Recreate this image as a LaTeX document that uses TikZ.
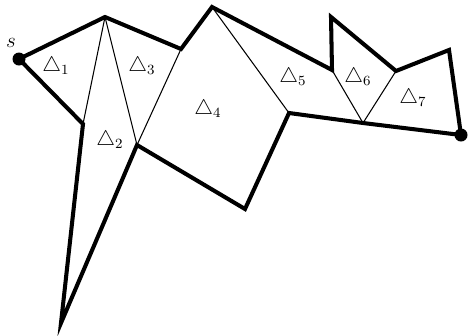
\documentclass[tikz,border=0pt]{standalone}
\usepackage{amsmath,amssymb}
\usepackage{tikz}
\usetikzlibrary{calc}

\begin{document}
\begin{tikzpicture}[
  x=0.2mm, y=-0.2mm,
  bound/.style={line width=2.3pt, line join=miter},
  chord/.style={line width=0.6pt},
  tri/.style={inner sep=0pt, font=\fontsize{12}{14}\selectfont},
  endpt/.style={circle, fill, inner sep=0pt, minimum size=2.6mm}
]
\useasboundingbox (0,0) rectangle (476,335);

% polygon corners
\coordinate (s) at (19,59);
\coordinate (a) at (105,17);
\coordinate (b) at (181,49);
\coordinate (c) at (212,7);
\coordinate (d) at (332,70);
\coordinate (e) at (331,17);
\coordinate (f) at (396,71);
\coordinate (g) at (449,50);
\coordinate (t) at (461,135);
\coordinate (h) at (363,123);
\coordinate (i) at (289,113);
\coordinate (j) at (245,209);
\coordinate (k) at (137,145);
\coordinate (l) at (61,323);
\coordinate (m) at (83,124);

\draw[bound] (s) -- (a) -- (b) -- (c) -- (d) -- (e) -- (f) -- (g) -- (t)
  -- (h) -- (i) -- (j) -- (k) -- (l) -- (m) -- cycle;

\draw[chord] (a) -- (m);
\draw[chord] (a) -- (k);
\draw[chord] (b) -- (k);
\draw[chord] (c) -- (i);
\draw[chord] (d) -- (h);
\draw[chord] (f) -- (h);

\node[endpt] (sdot) at (s) {};
\node[endpt] (tdot) at (t) {};
\node[tri] (slab) at (11,43) {$s$};

\node[tri] (t1) at (56,66) {$\triangle_1$};
\node[tri] (t2) at (110,140) {$\triangle_2$};
\node[tri] (t3) at (142,66) {$\triangle_3$};
\node[tri] (t4) at (208,109) {$\triangle_4$};
\node[tri] (t5) at (293,77) {$\triangle_5$};
\node[tri] (t6) at (358,77) {$\triangle_6$};
\node[tri] (t7) at (413,98) {$\triangle_7$};
\end{tikzpicture}
\end{document}
